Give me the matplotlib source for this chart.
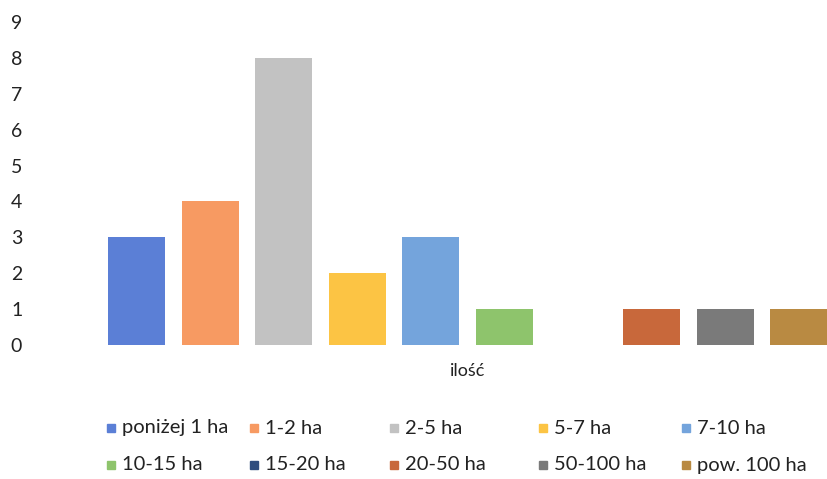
import matplotlib.pyplot as plt
from matplotlib.patches import Rectangle

plt.rcParams['font.family'] = ['Lato', 'DejaVu Sans']

# data
series = ['poniżej 1 ha', '1-2 ha', '2-5 ha', '5-7 ha', '7-10 ha',
          '10-15 ha', '15-20 ha', '20-50 ha', '50-100 ha', 'pow. 100 ha']
values = [3, 4, 8, 2, 3, 1, 0, 1, 1, 1]
category = 'ilość'
colors = ['#5b7fd6', '#f79a62', '#c2c2c2', '#fcc444', '#74a4dc',
          '#8ec46c', '#2f4d7e', '#c8683b', '#7a7a7a', '#b98a42']

fig = plt.figure(figsize=(8.28, 4.79), dpi=100)
ax = fig.add_axes([100/828, 134/479, 1 - 100/828, (345 - 22)/479])

x = list(range(len(values)))
ax.bar(x, values, width=0.775, color=colors)
ax.set_xlim(-0.5, 9.4)
ax.set_ylim(0, 9)
ax.set_yticks(range(10))
ax.set_xticks([])
for s in ax.spines.values():
    s.set_visible(False)
ax.tick_params(axis='y', length=0, pad=56, labelsize=14, labelcolor='#222222')

# category label under the cluster
ax.text(4.5, -0.72, category, transform=ax.transData, ha='center', va='center',
        fontsize=13, color='#222222')

# legend, 2 rows x 5 columns
col_x = [107, 250, 390, 539, 682]
row_y = [428, 465]
for i, name in enumerate(series):
    r, c = divmod(i, 5)
    px, py = col_x[c], row_y[r]
    fig.patches.append(Rectangle((px/828, (479 - py - 4)/479), 8/828, 8/479,
                                 transform=fig.transFigure, color=colors[i]))
    fig.text((px + 15)/828, (479 - py)/479, name, ha='left', va='center',
             fontsize=14.5, color='#222222')

fig.savefig('out.png', dpi=100)
